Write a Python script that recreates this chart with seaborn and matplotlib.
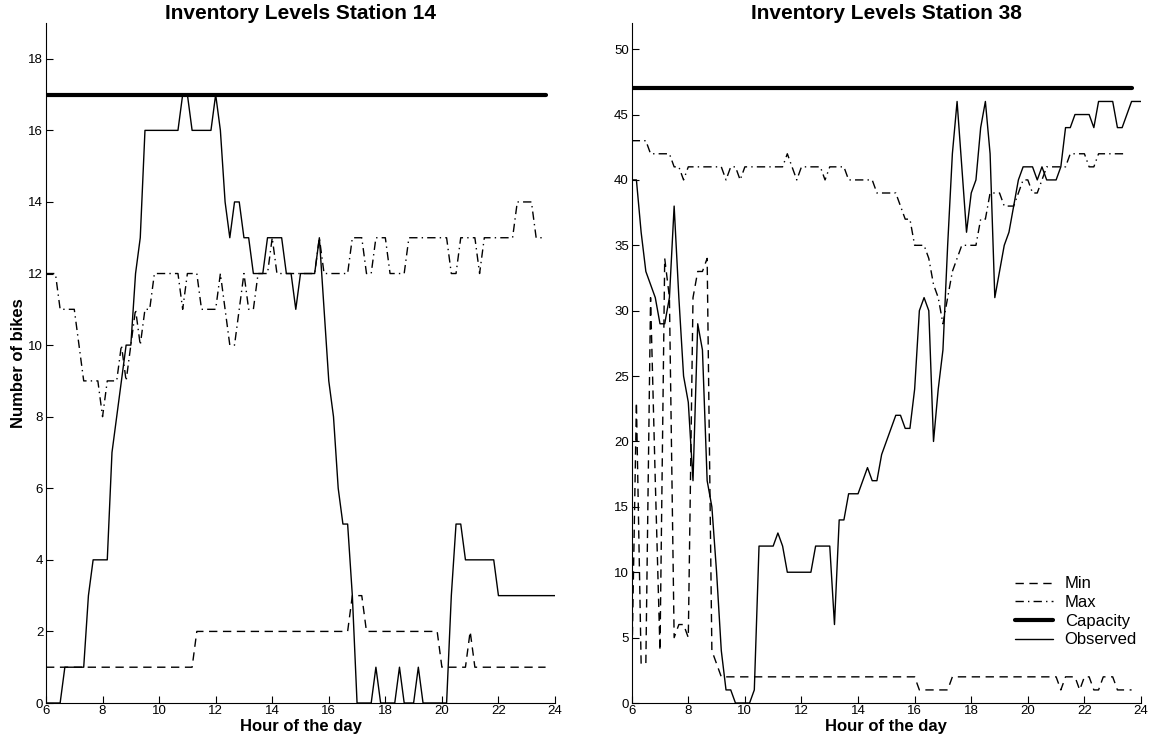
import numpy as np
import matplotlib
matplotlib.use("Agg")
import matplotlib.pyplot as plt
import seaborn as sns

# ---------------- data (10-minute samples starting at 6:00) ----------------
START_HOUR = 6
SAMPLES_PER_HOUR = 6

# Station 14
obs_14 = [0, 0, 0, 0, 1, 1, 1, 1, 1, 3, 4, 4, 4, 4, 7, 8, 9, 10, 10, 12, 13,
          16, 16, 16, 16, 16, 16, 16, 16, 17, 17, 16, 16, 16, 16, 16, 17, 16, 14, 13,
          14, 14, 13, 13, 12, 12, 12, 13, 13, 13, 13, 12, 12, 11, 12, 12, 12, 12, 13,
          11, 9, 8, 6, 5, 5, 3, 0, 0, 0, 0, 1, 0, 0, 0, 0, 1, 0, 0, 0, 1, 0,
          0, 0, 0, 0, 0, 3, 5, 5, 4, 4, 4, 4, 4, 4, 4,
          3, 3, 3, 3, 3, 3, 3, 3, 3, 3, 3, 3, 3]
max_14 = [12, 12, 12, 11, 11, 11, 11, 10, 9, 9, 9, 9, 8, 9, 9, 9, 10, 9, 10, 11,
          10, 11, 11, 12, 12, 12, 12, 12, 12, 11, 12, 12, 12, 11, 11, 11, 11, 12, 11,
          10, 10, 11, 12, 11, 11, 12, 12, 12, 13, 12, 12, 12, 12, 12, 12, 12, 12, 12,
          13, 12, 12, 12, 12, 12, 12, 13, 13, 13, 12, 12, 13, 13, 13, 12, 12, 12, 12,
          13, 13, 13, 13, 13, 13, 13, 13, 13, 12, 12, 13, 13, 13, 13, 12,
          13, 13, 13, 13, 13, 13, 13, 14, 14, 14, 14, 13, 13, 13]
min_14 = [1] * 32 + [2] * 33 + [3] * 3 + [2] * 16 + [1] * 6 + [2] + [1] * 16
capacity_14 = 17

# Station 38
obs_38 = [40, 40, 36, 33, 32, 31, 29, 29, 31, 38, 31, 25, 23, 17, 29, 27, 17, 15,
          10, 4, 1, 1, 0, 0, 0, 0, 1, 12, 12, 12, 12, 13, 12,
          10, 10, 10, 10, 10, 10, 12, 12, 12, 12, 6, 14, 14, 16, 16, 16, 17, 18,
          17, 17, 19, 20, 21, 22, 22, 21, 21, 24, 30, 31, 30, 20, 24, 27, 35, 42,
          46, 41, 36, 39, 40, 44, 46, 42, 31, 33, 35, 36, 38, 40, 41, 41, 41, 40,
          41, 40, 40, 40, 41, 44, 44, 45, 45, 45, 45, 44, 46, 46, 46, 46, 44, 44,
          45, 46, 46, 46]
max_38 = [43, 43, 43, 43, 42, 42, 42, 42, 42, 41, 41, 40, 41, 41, 41, 41, 41, 41,
          41, 41, 40, 41, 41, 40, 41, 41, 41, 41, 41, 41, 41, 41, 41, 42, 41, 40,
          41, 41, 41, 41, 41, 40, 41, 41, 41, 41, 40, 40, 40, 40, 40, 40, 39, 39,
          39, 39, 39, 38, 37, 37, 35, 35, 35, 34, 32, 31, 29, 31, 33, 34, 35, 35,
          35, 35, 37, 37, 39, 39, 39, 38, 38, 38, 39, 40, 40, 39, 39, 40, 41, 41,
          41, 41, 41, 42, 42, 42, 42, 41, 41, 42, 42, 42, 42, 42, 42, 42]
min_38 = ([2, 23, 3, 3, 31, 17, 4, 34, 31, 5, 6, 6, 5, 31, 33, 33, 34, 4, 3]
          + [2] * 42 + [1] * 7 + [2] * 23
          + [1, 2, 2, 2, 1, 2, 2, 1, 1, 2, 2, 2, 1, 1, 1, 1])
capacity_38 = 47

x_ticks = [6, 8, 10, 12, 14, 16, 18, 20, 22, 24]
y_ticks_14 = [0, 2, 4, 6, 8, 10, 12, 14, 16, 18]
y_ticks_38 = [0, 5, 10, 15, 20, 25, 30, 35, 40, 45, 50]
titles = ["Inventory Levels Station 14", "Inventory Levels Station 38"]
legend_labels = ["Min", "Max", "Capacity", "Observed"]


def hours(n):
    return START_HOUR + np.arange(n) / SAMPLES_PER_HOUR


# ---------------- styling ----------------
sns.set_style("ticks")
plt.rcParams['font.family'] = ['Liberation Sans', 'DejaVu Sans']
plt.rcParams['xtick.direction'] = 'in'
plt.rcParams['ytick.direction'] = 'in'
plt.rcParams['text.color'] = 'k'
plt.rcParams['axes.labelcolor'] = 'k'

fig = plt.figure(figsize=(11.56, 7.42), dpi=100)
ax1 = fig.add_axes([46 / 1156, 39 / 742, 509 / 1156, 680 / 742])
ax2 = fig.add_axes([631.7 / 1156, 39 / 742, 509.3 / 1156, 680 / 742])

DASH = (0, (6, 4))
DASHDOT = (0, (6, 3, 1, 3))


def draw(ax, obs, mn, mx, cap, yticks, ylim, title):
    n_cap = len(mn)
    sns.lineplot(x=hours(len(mn)), y=mn, ax=ax, color='k', lw=1.0,
                 linestyle=DASH, label=legend_labels[0], legend=False)
    sns.lineplot(x=hours(len(mx)), y=mx, ax=ax, color='k', lw=1.0,
                 linestyle=DASHDOT, label=legend_labels[1], legend=False)
    sns.lineplot(x=hours(n_cap), y=[cap] * n_cap, ax=ax, color='k', lw=3.0,
                 label=legend_labels[2], legend=False)
    sns.lineplot(x=hours(len(obs)), y=obs, ax=ax, color='k', lw=1.0,
                 label=legend_labels[3], legend=False)
    ax.set_xlim(6, 24)
    ax.set_ylim(*ylim)
    ax.set_xticks(x_ticks)
    ax.set_yticks(yticks)
    ax.tick_params(axis='both', labelsize=9.5, length=5, width=0.8,
                   color='k', labelcolor='k')
    ax.tick_params(axis='x', pad=1.5)
    ax.tick_params(axis='y', pad=2)
    ax.set_title(title, fontsize=15, fontweight='bold', pad=1, color='k')
    ax.set_xlabel("Hour of the day", fontsize=12, fontweight='bold',
                  labelpad=1.5, color='k')
    sns.despine(ax=ax)
    for s in ('left', 'bottom'):
        ax.spines[s].set_linewidth(0.8)
        ax.spines[s].set_color('k')


draw(ax1, obs_14, min_14, max_14, capacity_14, y_ticks_14, (0, 19), titles[0])
draw(ax2, obs_38, min_38, max_38, capacity_38, y_ticks_38, (0, 52), titles[1])
ax1.set_ylabel("Number of bikes", fontsize=12, fontweight='bold', labelpad=2,
               color='k')
ax2.set_ylabel("")

handles, labels = ax2.get_legend_handles_labels()
order = [labels.index(l) for l in legend_labels]
leg = ax2.legend([handles[i] for i in order], [labels[i] for i in order],
                 loc='lower right', bbox_to_anchor=(1.005, 0.072),
                 borderaxespad=0, frameon=False, fontsize=12,
                 handlelength=2.3, handletextpad=0.7, labelspacing=0.22)
for t in leg.get_texts():
    t.set_color('k')

fig.savefig("out.png", dpi=100)
